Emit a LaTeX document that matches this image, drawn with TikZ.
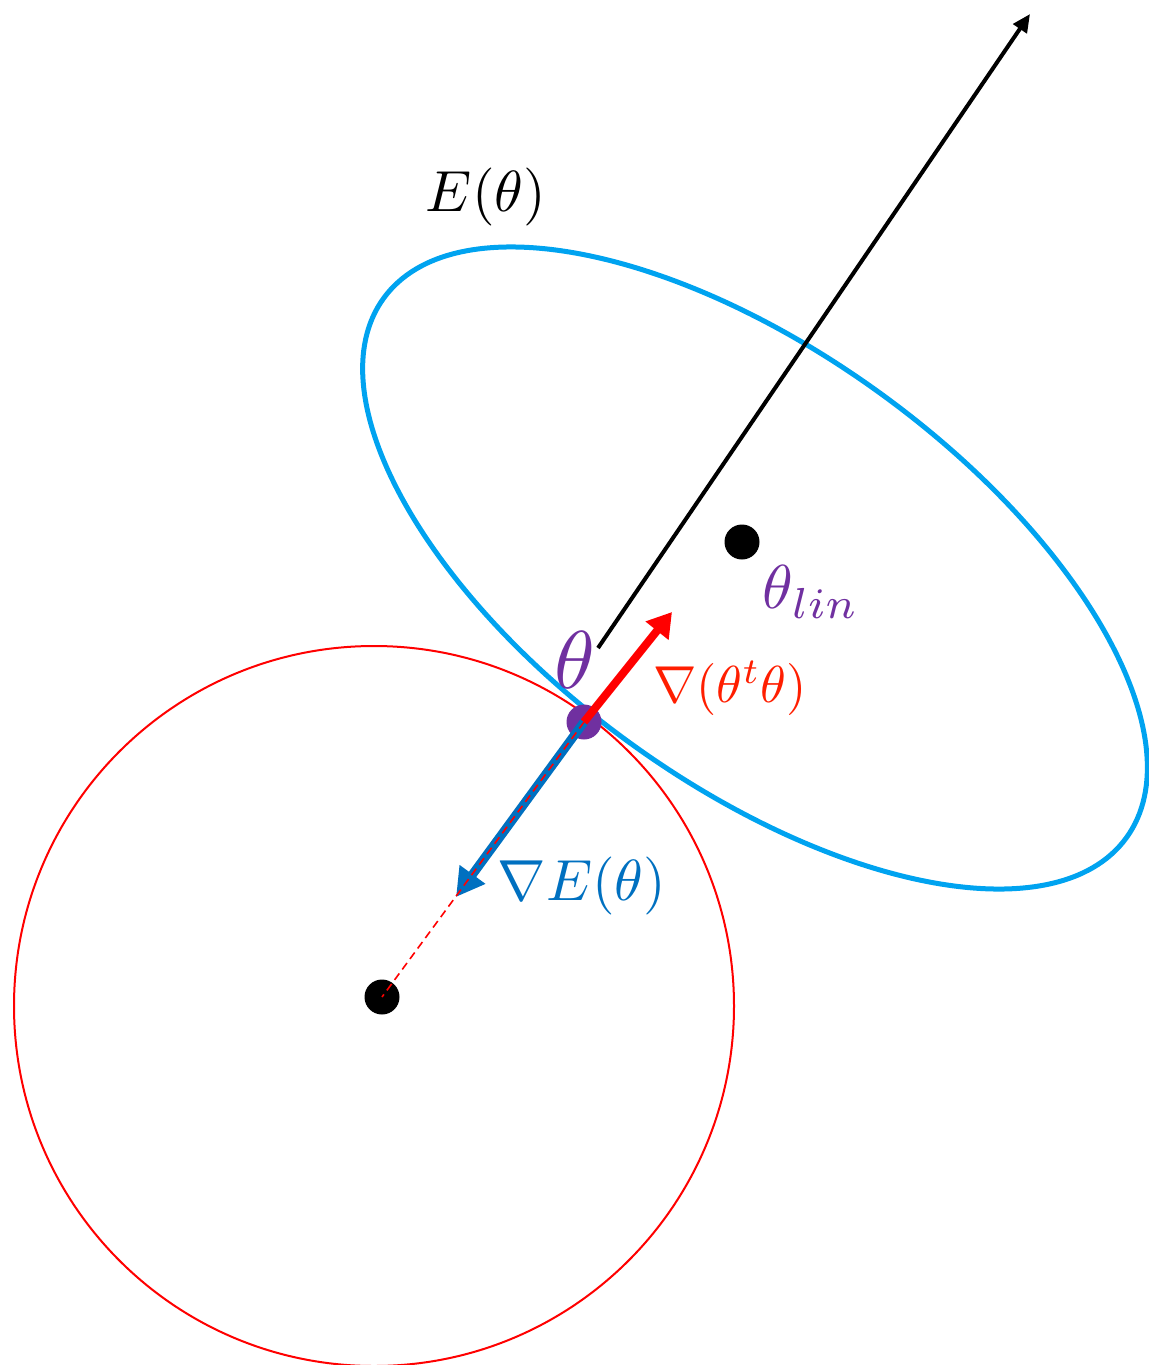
\documentclass[tikz,border=0pt]{standalone}
\usetikzlibrary{arrows.meta}
\definecolor{ellblue}{RGB}{0,163,240}
\definecolor{gradblue}{RGB}{0,112,192}
\definecolor{thpurple}{RGB}{112,48,160}
\definecolor{gradred}{RGB}{255,0,0}
\definecolor{txtred}{RGB}{255,30,0}
\tikzset{
  dot/.style={circle, fill=#1, inner sep=0pt, minimum size=17.5pt},
  lbl/.style={inner sep=0pt, scale=2.9}
}
\begin{document}
\begin{tikzpicture}[x=0.5pt,y=-0.5pt]
\useasboundingbox (0,0) rectangle (1149,1365);
% curves
\draw[gradred, line width=1pt] (374,1006) circle [radius=360];
\draw[ellblue, line width=2.5pt, rotate around={-36:(755,568)}] (755,568) ellipse [x radius=459, y radius=215];
% points
\node[dot=black] (c0) at (382,997) {};
\node[dot=black] (lin) at (742,542) {};
\node[dot=thpurple] (th) at (584,722) {};
% coordinates
\coordinate (bs) at (598,648);
\coordinate (be) at (1030,14);
\coordinate (rt) at (672,612);
\coordinate (bt) at (456,897);
% arrows
\draw[black, line width=2pt, -{Triangle[length=9pt,width=8pt]}] (bs) -- (be);
\draw[gradblue, line width=4.5pt, -{Triangle[length=14pt,width=15pt]}] (th.center) -- (bt);
\draw[gradred, line width=0.8pt, dash pattern=on 4pt off 2.5pt] (th.center) -- (c0.center);
\draw[gradred, line width=4pt, -{Triangle[length=12pt,width=14pt]}] (th.center) -- (rt);
% labels
\node[lbl, text=black] (lE) at (486,197) {$E(\theta)$};
\node[inner sep=0pt, text=thpurple, scale=4.1] (lth) at (575,660) {$\theta$};
\node[inner sep=0pt, text=txtred, scale=2.6] (lgr) at (730,688) {$\nabla(\theta^t\theta)$};
\node[lbl, text=gradblue] (lgE) at (582,886) {$\nabla E(\theta)$};
\node[inner sep=0pt, text=thpurple, scale=3.1] (llin) at (811,592) {$\theta_{lin}$};
\end{tikzpicture}
\end{document}
